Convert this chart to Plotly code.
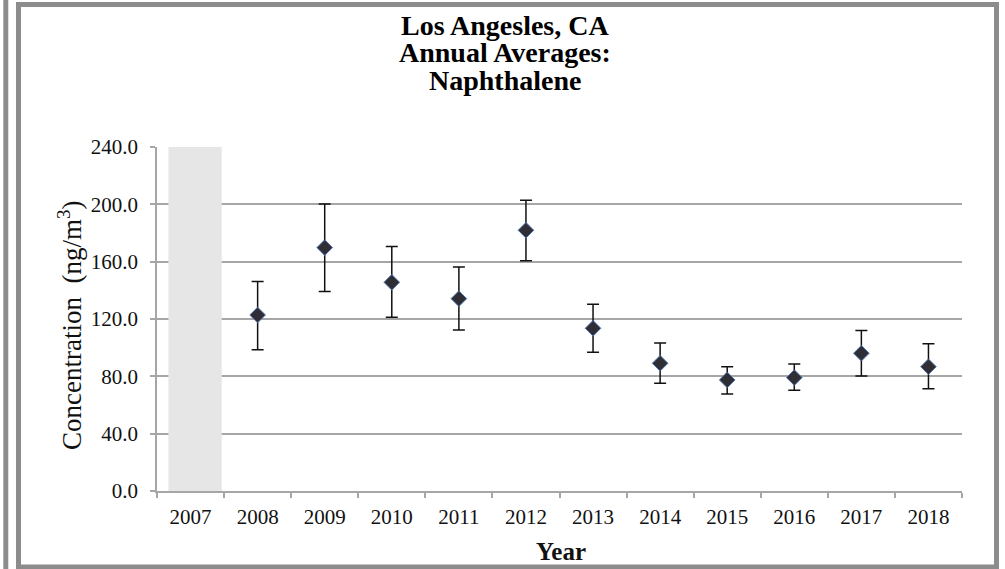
import plotly.graph_objects as go

# Annual averages (ng/m3)
years = ["2007", "2008", "2009", "2010", "2011", "2012", "2013", "2014", "2015", "2016", "2017", "2018"]
data_years = ["2008", "2009", "2010", "2011", "2012", "2013", "2014", "2015", "2016", "2017", "2018"]
avg = [122.8, 169.8, 145.6, 134.2, 181.9, 113.5, 89.1, 77.5, 79.1, 96.1, 86.7]
upper = [146.1, 200.3, 170.5, 156.3, 202.8, 130.3, 103.3, 86.7, 88.6, 111.9, 102.8]
lower = [98.6, 139.1, 121.2, 112.4, 160.7, 96.8, 75.2, 67.7, 70.3, 80.3, 71.4]
# year without a full year of data, shaded
shaded_years = ["2007"]
shade_top = [240.0]

err_plus = [u - a for u, a in zip(upper, avg)]
err_minus = [a - l for a, l in zip(avg, lower)]

W, H = 1005, 569
L, R, T, B = 157, 962, 147, 491
FONT = "Times New Roman, Liberation Serif, serif"


def px_x(p):
    return (p - L) / (R - L)


def px_y(p):
    return (B - p) / (B - T)


fig = go.Figure()

fig.add_trace(go.Bar(
    x=shaded_years, y=shade_top, width=0.795, offset=-0.33,
    marker=dict(color="#e6e6e6", line=dict(width=0)),
    hoverinfo="skip", showlegend=False,
))

fig.add_trace(go.Scatter(
    x=data_years, y=avg, mode="markers",
    marker=dict(symbol="diamond", size=12, color="#2e2e34",
                line=dict(color="#4f74b0", width=1)),
    error_y=dict(type="data", symmetric=False, array=err_plus, arrayminus=err_minus,
                 color="#111111", thickness=1.5, width=6),
    showlegend=False,
))

fig.update_xaxes(
    type="category", categoryorder="array", categoryarray=years, range=[-0.5, 11.5],
    showgrid=False, showline=True, linecolor="#a6a6a6", linewidth=1.5,
    ticks="outside", tickson="boundaries", ticklen=5, tickcolor="#a6a6a6", tickwidth=1.5,
    ticklabelstandoff=6,
    tickfont=dict(family=FONT, size=21, color="#111111"),
)
fig.update_yaxes(
    range=[0, 240], tick0=0, dtick=40, tickformat=".1f",
    showgrid=True, gridcolor="#a6a6a6", gridwidth=1.5,
    showline=True, linecolor="#a6a6a6", linewidth=1.5,
    ticks="outside", ticklen=5, tickcolor="#a6a6a6", tickwidth=1.5,
    ticklabelstandoff=8,
    zeroline=False,
    tickfont=dict(family=FONT, size=21, color="#111111"),
)

# axis titles
fig.add_annotation(text="<b>Year</b>", xref="paper", yref="paper",
                   x=px_x(561), y=px_y(551), xanchor="center", yanchor="middle",
                   showarrow=False, font=dict(family=FONT, size=25, color="#111111"))
fig.add_annotation(text="Concentration\u00a0\u00a0(ng/m<sup>3</sup>)", xref="paper", yref="paper",
                   x=px_x(70), y=px_y(326), xanchor="center", yanchor="middle", textangle=-90,
                   showarrow=False, font=dict(family=FONT, size=27, color="#111111"))

title_lines = ["Los Angesles, CA", "Annual Averages:", "Naphthalene"]
title_y = [25, 52.5, 80]
for txt, yp in zip(title_lines, title_y):
    fig.add_annotation(
        text="<b>" + txt + "</b>", xref="paper", yref="paper",
        x=px_x(505), y=px_y(yp), xanchor="center", yanchor="middle",
        showarrow=False, font=dict(family=FONT, size=28, color="#000000"),
    )

# outer frame and left edge line
frame = "#8c8c8c"
fig.add_shape(type="rect", xref="paper", yref="paper",
              x0=px_x(18.5), x1=px_x(996.5), y0=px_y(567), y1=px_y(4.5),
              line=dict(color=frame, width=5), layer="above")
fig.add_shape(type="line", xref="paper", yref="paper",
              x0=px_x(5.8), x1=px_x(5.8), y0=px_y(569), y1=px_y(0),
              line=dict(color=frame, width=5), layer="above")

fig.update_layout(
    width=W, height=H,
    margin=dict(l=L, r=W - R, t=T, b=H - B),
    plot_bgcolor="white", paper_bgcolor="white",
    barmode="overlay",
    font=dict(family=FONT),
)

fig.write_html("out.html", config={"displayModeBar": False},
               post_script="document.body.style.margin='0px';")
